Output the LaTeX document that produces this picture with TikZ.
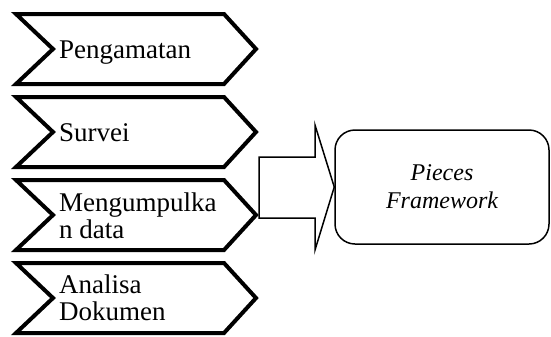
\documentclass[tikz,border=0pt]{standalone}
\usepackage{fontspec}
\setmainfont{Liberation Serif}
\tikzset{
  chevron/.style={line width=4bp, miter limit=10},
  steplabel/.style={anchor=base west, inner sep=0pt, align=left,
    font=\fontsize{27bp}{26.5bp}\selectfont},
  framebox/.style={draw, line width=1.5bp, rounded corners=20bp,
    minimum width=214bp, minimum height=114bp, align=center,
    font=\fontsize{24bp}{28bp}\selectfont\itshape},
  blockarrow/.style={line width=1.5bp, line join=miter}
}

\begin{document}
\begin{tikzpicture}[x=1bp, y=-1bp]
\useasboundingbox (0,0) rectangle (551,336);

% steps (top edge / last baseline / name / text)
\foreach \t/\b/\name/\txt in {14/58/peng/Pengamatan, 97/141/surv/Survei,
    180/238/kumpul/{Mengumpulka\\n data}, 263/320/dok/{Analisa\\Dokumen}} {
  \draw[chevron] (16,\t) -- (224,\t) -- (256,\t+35) -- (224,\t+70)
    -- (16,\t+70) -- (53,\t+35) -- cycle;
  \node[steplabel] (\name) at (59,\b) {\txt};
}

% result
\node[framebox] (pf) at (442,187) {Pieces\\Framework};

% block arrow
\coordinate (kumpulpt) at (259,187);
\draw[blockarrow] (kumpulpt |- 0,157) -- (315,157) -- (315,125) -- (pf.west)
  -- (315,250) -- (315,218) -- (kumpulpt |- 0,218) -- cycle;
\end{tikzpicture}
\end{document}
